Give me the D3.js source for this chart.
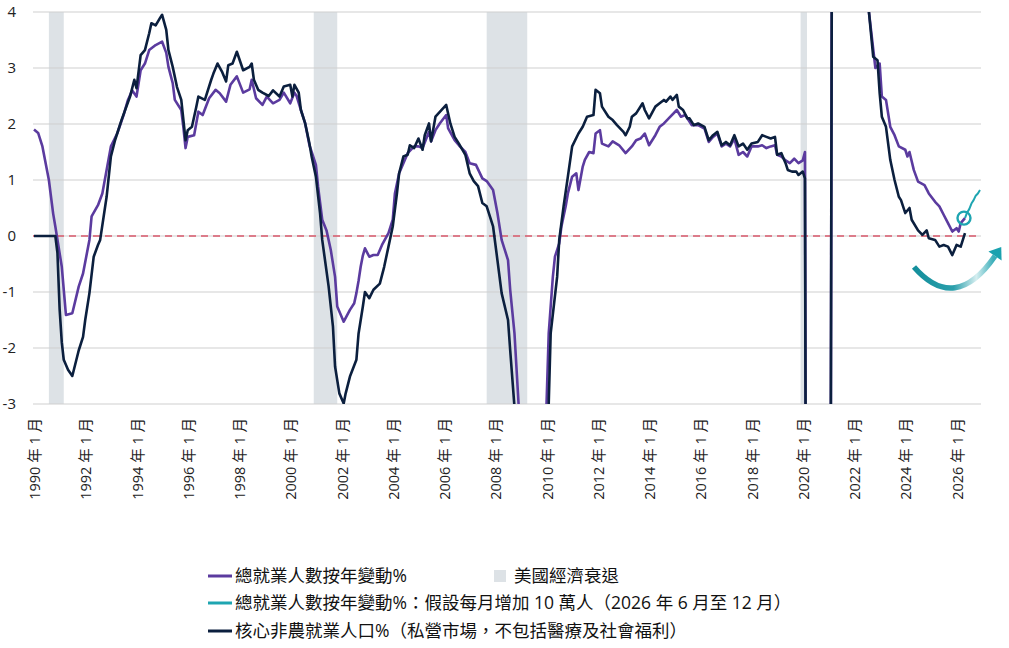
<!DOCTYPE html>
<html>
<head>
<meta charset="utf-8">
<script src="https://cdn.jsdelivr.net/npm/d3@7"></script>
<style>
  body { margin: 0; background: #fff; }
  svg { font-family: "Open Sans", "Noto Sans CJK TC", sans-serif; }
</style>
</head>
<body>
<div id="chart"></div>
<script>
// total employment y/y %
const totalEmp = [
  ["1990-01",1.90],["1990-03",1.84],["1990-05",1.60],["1990-08",1.00],["1990-10",0.40],["1990-11",0.17],
  ["1991-02",-0.55],["1991-04",-1.41],["1991-07",-1.38],["1991-10",-0.90],["1991-12",-0.67],
  ["1992-03",-0.07],["1992-04",0.35],["1992-07",0.55],["1992-09",0.76],
  ["1993-01",1.60],["1993-04",1.83],["1993-07",2.16],["1993-09",2.43],["1993-11",2.60],
  ["1994-01",2.49],["1994-03",2.96],["1994-05",3.08],["1994-07",3.32],["1994-10",3.41],
  ["1995-01",3.47],["1995-03",3.27],["1995-04",3.02],["1995-06",2.73],["1995-07",2.43],["1995-10",2.25],["1995-11",1.93],["1995-12",1.57],
  ["1996-01",1.77],["1996-04",1.80],["1996-06",2.22],["1996-08",2.16],["1996-11",2.46],
  ["1997-02",2.61],["1997-04",2.55],["1997-07",2.40],["1997-09",2.70],["1997-12",2.85],
  ["1998-03",2.56],["1998-06",2.62],["1998-07",2.79],["1998-09",2.46],["1998-12",2.34],
  ["1999-02",2.49],["1999-05",2.37],["1999-08",2.43],["1999-10",2.56],
  ["2000-01",2.37],["2000-03",2.56],["2000-04",2.50],["2000-06",2.25],["2000-08",2.01],["2000-10",1.62],
  ["2001-01",1.27],["2001-02",0.88],["2001-04",0.29],["2001-06",0.10],["2001-08",-0.25],["2001-10",-0.73],["2001-11",-1.26],
  ["2002-02",-1.53],["2002-05",-1.32],["2002-07",-1.20],["2002-08",-1.02],["2002-09",-0.80],["2002-10",-0.55],["2002-11",-0.35],["2002-12",-0.22],
  ["2003-02",-0.37],["2003-04",-0.34],["2003-06",-0.34],["2003-08",-0.16],["2003-11",0.05],
  ["2004-01",0.29],["2004-02",0.76],["2004-04",1.12],["2004-06",1.30],["2004-08",1.48],["2004-11",1.60],
  ["2005-01",1.60],["2005-03",1.57],["2005-06",1.86],["2005-07",1.69],["2005-09",1.89],["2005-11",2.01],
  ["2006-02",2.16],["2006-03",1.92],["2006-06",1.71],["2006-08",1.62],["2006-11",1.50],
  ["2007-01",1.30],["2007-04",1.27],["2007-07",1.03],["2007-09",0.98],["2007-12",0.82],
  ["2008-02",0.41],["2008-04",-0.07],["2008-07",-0.43],["2008-08",-0.96],["2008-10",-1.74],["2008-12",-3.05],
  ["2009-03",-4.0],["2009-07",-4.6],["2009-10",-4.2],
  ["2010-01",-3.0],["2010-02",-1.74],["2010-04",-0.73],["2010-05",-0.37],["2010-07",-0.13],["2010-08",0.17],["2010-10",0.53],["2010-11",0.76],
  ["2011-01",1.06],["2011-03",1.12],["2011-04",0.82],["2011-06",1.24],["2011-07",1.36],["2011-09",1.50],["2011-11",1.48],["2011-12",1.83],
  ["2012-02",1.89],["2012-03",1.65],["2012-06",1.60],["2012-08",1.69],["2012-11",1.62],
  ["2013-02",1.48],["2013-05",1.60],["2013-07",1.71],["2013-09",1.74],["2013-11",1.83],
  ["2014-01",1.62],["2014-04",1.80],["2014-06",1.95],["2014-08",2.01],["2014-11",2.13],
  ["2015-02",2.25],["2015-04",2.13],["2015-06",2.16],["2015-09",1.98],["2015-12",1.98],
  ["2016-03",1.92],["2016-05",1.68],["2016-07",1.77],["2016-09",1.83],["2016-11",1.60],
  ["2017-01",1.65],["2017-03",1.60],["2017-05",1.74],["2017-07",1.45],["2017-09",1.50],["2017-11",1.42],
  ["2018-01",1.60],["2018-04",1.60],["2018-06",1.62],["2018-08",1.57],["2018-10",1.60],["2018-12",1.62],
  ["2019-01",1.45],["2019-03",1.42],["2019-05",1.35],["2019-07",1.30],["2019-09",1.38],["2019-11",1.30],
  ["2020-01",1.35],["2020-02",1.50],["2020-03",-13.0],["2020-06",-9.0],["2020-12",-6.0],
  ["2021-02",-5.0],["2021-03",11.0],["2021-06",7.0],["2021-12",5.0],
  ["2022-04",4.6],["2022-08",4.0],["2022-11",3.0],
  ["2023-01",3.08],["2023-02",2.49],["2023-04",2.43],["2023-06",1.95],["2023-08",1.80],["2023-10",1.60],
  ["2024-01",1.54],["2024-02",1.42],["2024-03",1.50],["2024-05",1.18],["2024-07",0.97],["2024-10",0.91],["2024-12",0.76],
  ["2025-03",0.61],["2025-05",0.53],["2025-07",0.38],["2025-09",0.23],["2025-11",0.08],
  ["2026-01",0.14],["2026-02",0.08],["2026-03",0.23],["2026-05",0.32]
];

// scenario: +100k jobs a month, Jun-Dec 2026
const scenario = [
  ["2026-05",0.32],["2026-06",0.42],["2026-07",0.48],["2026-08",0.58],
  ["2026-09",0.64],["2026-10",0.72],["2026-11",0.76],["2026-12",0.82]
];

// core private non-farm (ex health & social assistance) y/y %
const coreEmp = [
  ["1990-01",0],["1990-11",0],["1990-12",-0.3],
  ["1991-01",-1.3],["1991-02",-1.9],["1991-03",-2.21],["1991-05",-2.39],["1991-07",-2.50],["1991-10",-2.04],["1991-12",-1.80],
  ["1992-01",-1.50],["1992-03",-1.02],["1992-05",-0.37],["1992-07",-0.16],["1992-08",-0.07],["1992-11",0.70],
  ["1993-01",1.42],["1993-03",1.71],["1993-06",2.07],["1993-10",2.49],["1993-12",2.79],
  ["1994-01",2.64],["1994-03",3.23],["1994-05",3.32],["1994-07",3.62],["1994-08",3.80],["1994-10",3.76],["1994-12",3.89],
  ["1995-01",3.95],["1995-03",3.68],["1995-04",3.32],["1995-06",3.02],["1995-08",2.66],["1995-10",2.43],["1995-12",1.71],
  ["1996-01",1.89],["1996-03",1.95],["1996-05",2.30],["1996-06",2.49],["1996-09",2.43],["1996-12",2.79],
  ["1997-01",2.90],["1997-03",3.08],["1997-05",2.94],["1997-07",2.76],["1997-08",3.05],["1997-10",3.08],["1997-12",3.29],
  ["1998-03",2.96],["1998-06",3.02],["1998-07",3.08],["1998-08",2.79],["1998-10",2.61],["1998-12",2.56],
  ["1999-03",2.50],["1999-05",2.60],["1999-08",2.49],["1999-10",2.67],
  ["2000-01",2.70],["2000-02",2.49],["2000-03",2.70],["2000-05",2.56],["2000-06",2.25],["2000-08",2.01],["2000-10",1.65],["2000-11",1.42],
  ["2001-01",1.06],["2001-03",0.41],["2001-04",-0.07],["2001-07",-0.90],["2001-09",-1.62],["2001-10",-2.33],["2001-12",-2.81],
  ["2002-02",-2.99],["2002-03",-2.81],["2002-05",-2.51],["2002-08",-2.21],["2002-09",-1.74],["2002-11",-1.26],["2002-12",-1.00],
  ["2003-02",-1.11],["2003-04",-0.96],["2003-07",-0.85],["2003-09",-0.55],["2003-11",-0.19],
  ["2004-01",0.17],["2004-03",0.76],["2004-04",1.12],["2004-06",1.42],["2004-08",1.45],["2004-09",1.62],["2004-11",1.57],
  ["2005-01",1.74],["2005-03",1.54],["2005-04",1.80],["2005-06",2.01],["2005-07",1.69],["2005-09",2.13],
  ["2006-02",2.34],["2006-04",2.01],["2006-06",1.77],["2006-08",1.65],["2006-11",1.45],
  ["2007-01",1.12],["2007-03",0.98],["2007-05",0.89],["2007-07",0.59],["2007-09",0.53],["2007-12",0.17],
  ["2008-02",-0.43],["2008-04",-1.02],["2008-07",-1.50],["2008-08",-2.04],["2008-10",-3.05],
  ["2009-03",-5.5],["2009-07",-6.2],["2009-11",-5.0],
  ["2010-02",-3.0],["2010-03",-1.74],["2010-06",-0.73],["2010-07",-0.07],["2010-09",0.53],["2010-11",1.06],
  ["2011-01",1.60],["2011-04",1.83],["2011-06",1.95],["2011-08",2.13],["2011-11",2.16],["2011-12",2.61],
  ["2012-02",2.55],["2012-03",2.31],["2012-06",2.13],["2012-08",2.07],["2012-10",1.98],
  ["2013-01",1.86],["2013-02",1.80],["2013-04",1.95],["2013-05",2.13],["2013-07",2.19],["2013-10",2.37],["2013-11",2.25],
  ["2014-01",2.10],["2014-04",2.31],["2014-06",2.37],["2014-08",2.43],["2014-09",2.40],["2014-11",2.49],["2014-12",2.43],
  ["2015-02",2.52],["2015-03",2.31],["2015-05",2.25],["2015-07",2.10],["2015-08",2.10],["2015-10",1.98],["2015-12",2.01],
  ["2016-03",1.95],["2016-05",1.71],["2016-07",1.80],["2016-09",1.86],["2016-11",1.62],
  ["2017-01",1.68],["2017-03",1.62],["2017-05",1.80],["2017-07",1.60],["2017-09",1.65],["2017-11",1.54],
  ["2018-01",1.65],["2018-04",1.68],["2018-06",1.80],["2018-08",1.77],["2018-10",1.74],["2018-12",1.77],
  ["2019-01",1.45],["2019-03",1.48],["2019-05",1.30],["2019-06",1.18],["2019-08",1.15],["2019-10",1.15],["2019-11",1.09],
  ["2020-01",1.15],["2020-02",1.03],["2020-03",-13.0],["2020-06",-9.5],["2020-12",-6.5],
  ["2021-02",-5.0],["2021-03",11.0],["2021-06",7.5],["2021-12",5.2],
  ["2022-04",4.7],["2022-08",4.0],["2022-10",3.2],["2022-12",3.14],
  ["2023-01",2.55],["2023-02",2.13],["2023-04",1.95],["2023-06",1.36],["2023-08",1.00],["2023-10",0.70],["2023-11",0.64],
  ["2024-01",0.41],["2024-03",0.50],["2024-04",0.29],["2024-07",0.10],["2024-09",0.02],["2024-11",0.10],["2024-12",-0.04],
  ["2025-03",-0.07],["2025-05",-0.19],["2025-07",-0.16],["2025-09",-0.19],["2025-11",-0.34],
  ["2026-01",-0.16],["2026-03",-0.19],["2026-05",0.05]
];

// NBER recessions
const recessions = [
  ["1990-08","1991-03"],["2000-12","2001-11"],["2007-09","2009-04"],["2019-12","2020-03"]
];

const yTicks = [-3, -2, -1, 0, 1, 2, 3, 4];
const tickYears = d3.range(1990, 2027, 2);

const legendItems = [
  { label: "總就業人數按年變動%", color: "#5b3b9f", kind: "line" },
  { label: "美國經濟衰退", color: "#dde2e6", kind: "box" },
  { label: "總就業人數按年變動%：假設每月增加 10 萬人（2026 年 6 月至 12 月）", color: "#1ea5b1", kind: "line" },
  { label: "核心非農就業人口%（私營市場，不包括醫療及社會福利）", color: "#0b1f3e", kind: "line" }
];

const W = 1009, H = 648;
const parse = d3.timeParse("%Y-%m");

const svg = d3.select("#chart").append("svg")
  .attr("width", W).attr("height", H);

const x = d3.scaleTime([parse("1990-01"), parse("2026-12")], [34, 980]);
const y = d3.scaleLinear([-3, 4], [404, 12]);

// recession shading
svg.append("g").selectAll("rect")
  .data(recessions).enter().append("rect")
  .attr("x", (d) => x(parse(d[0])))
  .attr("y", y(4))
  .attr("width", (d) => x(parse(d[1])) - x(parse(d[0])))
  .attr("height", y(-3) - y(4))
  .attr("fill", "#dde2e6");

// gridlines
svg.append("g").selectAll("line")
  .data(yTicks).enter().append("line")
  .attr("x1", 33).attr("x2", 981)
  .attr("y1", (d) => y(d)).attr("y2", (d) => y(d))
  .attr("stroke", "#cfcfcf").attr("stroke-width", 1);

// y labels
svg.append("g").selectAll("text")
  .data(yTicks).enter().append("text")
  .attr("x", 16).attr("y", (d) => y(d))
  .attr("dy", "0.35em")
  .attr("text-anchor", "end")
  .attr("font-size", 15)
  .attr("fill", "#222")
  .text((d) => d);

// x labels, rotated
svg.append("g").selectAll("text")
  .data(tickYears).enter().append("text")
  .attr("transform", (d) => `translate(${x(new Date(d, 0, 1)) + 1},418) rotate(-90)`)
  .attr("dy", "0.35em")
  .attr("text-anchor", "end")
  .attr("font-size", 14.5)
  .attr("fill", "#222")
  .text((d) => `${d} 年 1 月`);

// zero line
svg.append("line")
  .attr("x1", 33).attr("x2", 981)
  .attr("y1", y(0)).attr("y2", y(0))
  .attr("stroke", "#d9596c")
  .attr("stroke-width", 1.6)
  .attr("stroke-dasharray", "7,5");

svg.append("clipPath").attr("id", "plot")
  .append("rect").attr("x", 33).attr("y", 12).attr("width", 950).attr("height", 392);

const line = d3.line()
  .x((d) => x(parse(d[0])))
  .y((d) => y(d[1]));

const lines = svg.append("g").attr("clip-path", "url(#plot)");
lines.append("path").datum(totalEmp)
  .attr("d", line).attr("fill", "none")
  .attr("stroke", "#5b3b9f").attr("stroke-width", 2.6)
  .attr("stroke-linejoin", "round");
lines.append("path").datum(coreEmp)
  .attr("d", line).attr("fill", "none")
  .attr("stroke", "#0b1f3e").attr("stroke-width", 2.6)
  .attr("stroke-linejoin", "round");
lines.append("path").datum(scenario)
  .attr("d", line).attr("fill", "none")
  .attr("stroke", "#1ea5b1").attr("stroke-width", 2)
  .attr("stroke-linejoin", "round");

// circle marker where the scenario starts
const first = scenario[0];
svg.append("circle")
  .attr("cx", x(parse(first[0])) - 1)
  .attr("cy", y(first[1]))
  .attr("r", 6.5)
  .attr("fill", "none")
  .attr("stroke", "#1ea5b1")
  .attr("stroke-width", 2.4);

// curved arrow
const grad = svg.append("defs").append("linearGradient")
  .attr("id", "arrowGrad")
  .attr("gradientUnits", "userSpaceOnUse")
  .attr("x1", 912).attr("y1", 0).attr("x2", 1004).attr("y2", 0);
grad.append("stop").attr("offset", "0%").attr("stop-color", "#138e9b");
grad.append("stop").attr("offset", "45%").attr("stop-color", "#2a9fab");
grad.append("stop").attr("offset", "70%").attr("stop-color", "#d5eef0");
grad.append("stop").attr("offset", "88%").attr("stop-color", "#3fb0bb");
grad.append("stop").attr("offset", "100%").attr("stop-color", "#1aa2af");

const p0 = [914, 267], p1 = [955, 314], p2 = [995, 256];
svg.append("path")
  .attr("d", `M${p0}Q${p1} ${p2}`)
  .attr("fill", "none")
  .attr("stroke", "url(#arrowGrad)")
  .attr("stroke-width", 5.5);

const dx = p2[0] - p1[0], dy = p2[1] - p1[1];
const len = Math.hypot(dx, dy);
const ux = dx / len, uy = dy / len;
const tip = [p2[0] + ux * 11, p2[1] + uy * 11];
const b1 = [p2[0] - uy * 8, p2[1] + ux * 8];
const b2 = [p2[0] + uy * 8, p2[1] - ux * 8];
svg.append("path")
  .attr("d", `M${tip}L${b1}L${b2}Z`)
  .attr("fill", "#1aa2af");

// legend
const lg = svg.append("g").attr("font-size", 17.5).attr("fill", "#111");
const rows = [
  [legendItems[0], 208, 576], [legendItems[1], 494, 576],
  [legendItems[2], 208, 603], [legendItems[3], 208, 631]
];
rows.forEach(([item, lx, ly]) => {
  if (item.kind === "line") {
    lg.append("line")
      .attr("x1", lx).attr("x2", lx + 24)
      .attr("y1", ly).attr("y2", ly)
      .attr("stroke", item.color).attr("stroke-width", 3);
    lg.append("text").attr("x", lx + 27).attr("y", ly).attr("dy", "0.35em").text(item.label);
  } else {
    lg.append("rect")
      .attr("x", lx).attr("y", ly - 6)
      .attr("width", 12).attr("height", 12)
      .attr("fill", item.color);
    lg.append("text").attr("x", lx + 20).attr("y", ly).attr("dy", "0.35em").text(item.label);
  }
});
</script>
</body>
</html>
